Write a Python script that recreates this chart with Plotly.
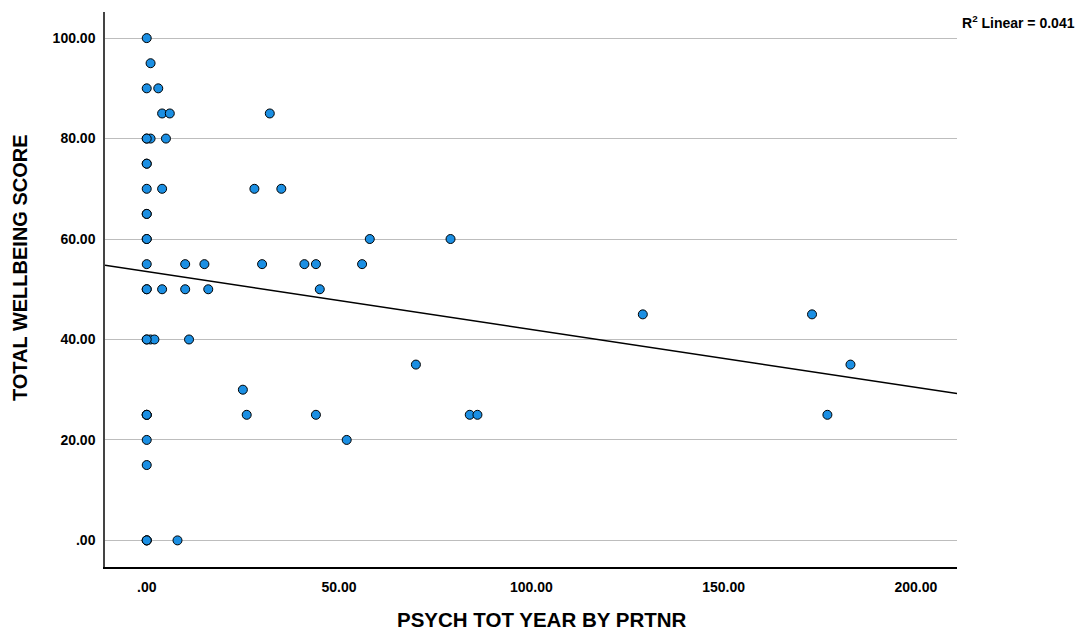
import numpy as np
import plotly.graph_objects as go

# Psychology sessions per year with partner vs. total wellbeing score.
# Many respondents sit at 0 sessions, so several points overlap at x = 0.
psych_tot_year = [
    0,
    1,
    0, 3,
    4, 6, 32,
    0, 1, 5,
    0,
    0, 4, 28, 35,
    0,
    0, 58, 79,
    0, 10, 15, 30, 41, 44, 56,
    0, 4, 10, 16, 45,
    129, 173,
    0, 1, 2, 11,
    70, 183,
    25,
    0, 26, 44, 84, 86, 177,
    0, 52,
    0,
    0, 8,
    # overlapping respondents at zero sessions
    0, 0, 0, 0, 0, 0, 0, 0, 0, 0,
]
wellbeing = [
    100,
    95,
    90, 90,
    85, 85, 85,
    80, 80, 80,
    75,
    70, 70, 70, 70,
    65,
    60, 60, 60,
    55, 55, 55, 55, 55, 55, 55,
    50, 50, 50, 50, 50,
    45, 45,
    40, 40, 40, 40,
    35, 35,
    30,
    25, 25, 25, 25, 25, 25,
    20, 20,
    15,
    0, 0,
    0, 0, 25, 25, 40, 50, 60, 65, 75, 80,
]

x_ticks = [0, 50, 100, 150, 200]
x_tick_text = [".00", "50.00", "100.00", "150.00", "200.00"]
y_ticks = [0, 20, 40, 60, 80, 100]
y_tick_text = [".00", "20.00", "40.00", "60.00", "80.00", "100.00"]
x_title = "PSYCH TOT YEAR BY PRTNR"
y_title = "TOTAL WELLBEING SCORE"

X_RANGE = [-10.85, 210.7]
Y_RANGE = [-5.3, 105.2]

x = np.array(psych_tot_year, dtype=float)
y = np.array(wellbeing, dtype=float)
slope, intercept = np.polyfit(x, y, 1)
r2 = np.corrcoef(x, y)[0, 1] ** 2
line_x = np.array(X_RANGE)
line_y = intercept + slope * line_x

FONT = "Liberation Sans, Arial, sans-serif"

fig = go.Figure()

fig.add_trace(go.Scatter(
    x=line_x, y=line_y, mode="lines",
    line=dict(color="black", width=1.5),
    hoverinfo="skip", showlegend=False,
))

fig.add_trace(go.Scatter(
    x=x, y=y, mode="markers",
    marker=dict(size=9, color="#1b8fe3", line=dict(color="black", width=1)),
    showlegend=False,
))

fig.update_layout(
    width=1089, height=633,
    margin=dict(l=105, r=132, t=12, b=66),
    paper_bgcolor="white", plot_bgcolor="white",
    font=dict(family=FONT, color="black"),
    xaxis=dict(
        range=X_RANGE, tickmode="array", tickvals=x_ticks, ticktext=x_tick_text,
        showgrid=False, zeroline=False, automargin=False,
        showline=True, linecolor="black", linewidth=1.5,
        ticks="outside", ticklen=6, tickcolor="rgba(0,0,0,0)",
        tickfont=dict(family=FONT, size=14, weight="bold"),
    ),
    yaxis=dict(
        range=Y_RANGE, tickmode="array", tickvals=y_ticks, ticktext=y_tick_text,
        showgrid=True, gridcolor="#bdbdbd", gridwidth=1.3, zeroline=False,
        automargin=False,
        showline=True, linecolor="#444444", linewidth=1.5,
        ticks="outside", ticklen=5, tickcolor="rgba(0,0,0,0)",
        tickfont=dict(family=FONT, size=14, weight="bold"),
    ),
    annotations=[
        dict(
            text=f"R<sup>2</sup> Linear = {r2:.3f}",
            xref="paper", yref="paper", x=1.003, y=1.002,
            xanchor="left", yanchor="top",
            showarrow=False, font=dict(family=FONT, size=14, weight="bold"),
        ),
        dict(
            text=x_title, xref="paper", yref="paper", x=0.513, y=-0.095,
            xanchor="center", yanchor="middle", showarrow=False,
            font=dict(family=FONT, size=20.5, weight="bold"),
        ),
        dict(
            text=y_title, xref="paper", yref="paper", x=-0.1, y=0.54,
            xanchor="center", yanchor="middle", textangle=-90, showarrow=False,
            font=dict(family=FONT, size=20, weight="bold"),
        ),
    ],
)

fig.write_html("out.html")
